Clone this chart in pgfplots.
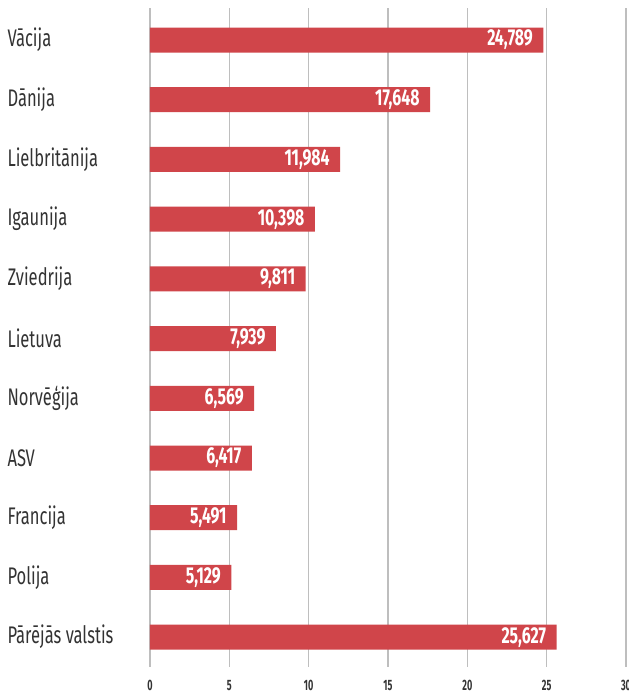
\documentclass[border=0pt]{standalone}
\usepackage{pgfplots}
\pgfplotsset{compat=1.18}
\usepackage{pgfplotstable}
\usepackage{fontspec}
\setmainfont{Fira Sans}[FakeStretch=0.69]
\newfontfamily\tickfont{Fira Sans}[FakeStretch=0.6]
\definecolor{barred}{RGB}{208,69,74}
\definecolor{lbl}{RGB}{51,51,51}
\definecolor{gridc}{RGB}{190,190,190}
\pgfplotstableread{
val idx lab
24.789 0 24,789
17.648 1 17,648
11.984 2 11,984
10.398 3 10,398
9.811 4 9,811
7.939 5 7,939
6.569 6 6,569
6.417 7 6,417
5.491 8 5,491
5.129 9 5,129
25.627 10 25,627
}\datatable
\begin{document}
\begin{tikzpicture}
\useasboundingbox (-150pt,-29pt) rectangle (479pt,667pt);
\begin{axis}[
  at={(0pt,0pt)}, anchor=south west,
  scale only axis, width=476pt, height=659pt,
  xmin=0, xmax=30, ymin=-0.536, ymax=10.5,
  y dir=reverse,
  axis line style={draw=none},
  major tick length=0pt,
  xtick={0,5,...,30},
  ytick={0,...,10},
  yticklabels={Vācija,Dānija,Lielbritānija,Igaunija,Zviedrija,Lietuva,Norvēģija,ASV,Francija,Polija,Pārējās valstis},
  yticklabel style={anchor=west, xshift=-146pt, font=\fontsize{24}{24}\selectfont, text=lbl},
  xticklabels={0,5,10,15,20,25,30},
  xticklabel style={font=\tickfont\bfseries\fontsize{15}{15}\selectfont, text=lbl, yshift=-10pt},
  xmajorgrids,
  grid style={gridc, line width=1.2pt},
  xbar, bar width=25pt,
  point meta=explicit symbolic,
  nodes near coords,
  every node near coord/.append style={anchor=east, xshift=-7pt, text=white, font=\bfseries\fontsize{23}{23}\selectfont},
  clip=false,
]
\addplot[fill=barred, draw=none] table[x=val, y=idx, meta=lab] {\datatable};
\end{axis}
\end{tikzpicture}
\end{document}
